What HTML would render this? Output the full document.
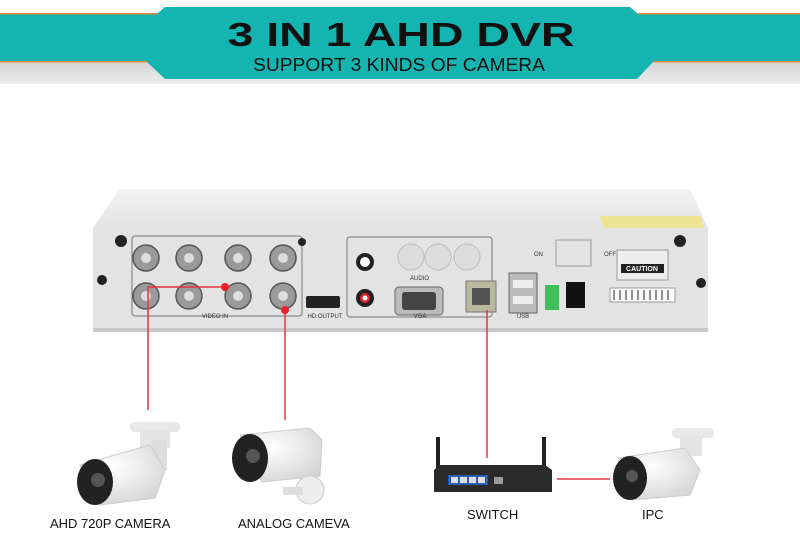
<!DOCTYPE html>
<html><head><style>
body{margin:0;background:#fff;}
svg{display:block;font-family:"Liberation Sans",Arial,sans-serif;}
</style></head><body>
<svg width="800" height="553" viewBox="0 0 800 553" xmlns="http://www.w3.org/2000/svg">
<defs>
<linearGradient id="gr" x1="0" y1="0" x2="0" y2="1"><stop offset="0" stop-color="#d4d4d4"/><stop offset="1" stop-color="#ececec"/></linearGradient>
<linearGradient id="top" x1="0" y1="0" x2="0" y2="1"><stop offset="0" stop-color="#f3f3f3"/><stop offset="1" stop-color="#e2e2e2"/></linearGradient>
<radialGradient id="cam" cx="0.4" cy="0.35" r="0.8"><stop offset="0" stop-color="#fff"/><stop offset="1" stop-color="#cfcfcf"/></radialGradient>
</defs>
<!-- header -->
<rect x="0" y="62" width="800" height="22" fill="url(#gr)"/>
<rect x="0" y="13" width="800" height="49" fill="#14b4b0"/>
<rect x="0" y="13" width="800" height="1.5" fill="#e8873a"/>
<rect x="0" y="61" width="800" height="1.5" fill="#e8873a"/>
<polygon points="165,7 630,7 637,13 653,62 637,79 165,79 147,62 158,13" fill="#14b4b0"/>
<text x="401" y="46" text-anchor="middle" font-size="33" font-weight="bold" fill="#111" textLength="347" lengthAdjust="spacingAndGlyphs">3 IN 1 AHD DVR</text>
<text x="399" y="71" text-anchor="middle" font-size="18" fill="#111" textLength="292" lengthAdjust="spacingAndGlyphs">SUPPORT 3 KINDS OF CAMERA</text>

<!-- DVR -->
<polygon points="120,189 690,189 708,228 93,228" fill="url(#top)"/>
<polygon points="600,216 700,216 704,228 604,228" fill="#f0e27a" opacity="0.8"/>
<rect x="93" y="228" width="615" height="102" fill="#e3e3e3"/>
<rect x="93" y="328" width="615" height="4" fill="#c8c8c8"/>
<g fill="#222"><circle cx="121" cy="241" r="6"/><circle cx="102" cy="280" r="5"/><circle cx="680" cy="241" r="6"/><circle cx="701" cy="283" r="5"/></g>
<rect x="132" y="236" width="170" height="80" fill="none" stroke="#777" rx="3"/>
<g fill="#9a9a9a" stroke="#555" stroke-width="1.5">
<circle cx="146" cy="258" r="13"/><circle cx="189" cy="258" r="13"/><circle cx="238" cy="258" r="13"/><circle cx="283" cy="258" r="13"/>
<circle cx="146" cy="296" r="13"/><circle cx="189" cy="296" r="13"/><circle cx="238" cy="296" r="13"/><circle cx="283" cy="296" r="13"/>
</g>
<g fill="#ddd"><circle cx="146" cy="258" r="5"/><circle cx="189" cy="258" r="5"/><circle cx="238" cy="258" r="5"/><circle cx="283" cy="258" r="5"/>
<circle cx="146" cy="296" r="5"/><circle cx="189" cy="296" r="5"/><circle cx="238" cy="296" r="5"/><circle cx="283" cy="296" r="5"/></g>
<circle cx="302" cy="242" r="4" fill="#222"/>
<text x="215" y="318" font-size="6" text-anchor="middle" fill="#333">VIDEO IN</text>
<rect x="306" y="296" width="34" height="12" rx="2" fill="#222"/>
<text x="325" y="318" font-size="6" text-anchor="middle" fill="#333">HD OUTPUT</text>
<rect x="347" y="237" width="145" height="80" fill="none" stroke="#777" rx="3"/>
<circle cx="365" cy="262" r="9" fill="#222"/><circle cx="365" cy="262" r="5" fill="#fff"/>
<circle cx="365" cy="298" r="9" fill="#222"/><circle cx="365" cy="298" r="5" fill="#e0202a"/><circle cx="365" cy="298" r="2.5" fill="#fff"/>
<g fill="#ddd" stroke="#bbb"><circle cx="411" cy="257" r="13"/><circle cx="438" cy="257" r="13"/><circle cx="467" cy="257" r="13"/></g>
<text x="410" y="280" font-size="6" fill="#333">AUDIO</text>
<rect x="395" y="287" width="48" height="28" rx="4" fill="#bbb" stroke="#666"/>
<rect x="402" y="292" width="34" height="18" rx="3" fill="#444"/>
<text x="420" y="318" font-size="6" text-anchor="middle" fill="#333">VGA</text>
<rect x="466" y="281" width="30" height="31" fill="#b9b9a0" stroke="#777"/>
<rect x="472" y="288" width="18" height="17" fill="#555"/>
<rect x="509" y="273" width="28" height="40" fill="#bbb" stroke="#666"/>
<rect x="513" y="280" width="20" height="8" fill="#eee"/><rect x="513" y="296" width="20" height="8" fill="#eee"/>
<text x="523" y="318" font-size="6" text-anchor="middle" fill="#333">USB</text>
<rect x="545" y="285" width="14" height="25" fill="#3fbf5a"/>
<rect x="566" y="282" width="19" height="26" fill="#111"/>
<rect x="556" y="240" width="35" height="26" fill="none" stroke="#999"/>
<text x="534" y="256" font-size="6" fill="#333">ON</text><text x="604" y="256" font-size="6" fill="#333">OFF</text>
<rect x="617" y="250" width="51" height="30" fill="#eee" stroke="#999"/>
<rect x="621" y="264" width="43" height="9" fill="#222"/>
<text x="642" y="271" font-size="7" font-weight="bold" text-anchor="middle" fill="#fff">CAUTION</text>
<rect x="610" y="288" width="65" height="14" fill="#fff" stroke="#999"/>
<g stroke="#222" stroke-width="1"><line x1="614" y1="290" x2="614" y2="300"/><line x1="620" y1="290" x2="620" y2="300"/><line x1="626" y1="290" x2="626" y2="300"/><line x1="632" y1="290" x2="632" y2="300"/><line x1="638" y1="290" x2="638" y2="300"/><line x1="644" y1="290" x2="644" y2="300"/><line x1="650" y1="290" x2="650" y2="300"/><line x1="656" y1="290" x2="656" y2="300"/><line x1="662" y1="290" x2="662" y2="300"/><line x1="668" y1="290" x2="668" y2="300"/></g>

<!-- red connectors -->
<g stroke="#e8353d" stroke-width="1.5" fill="none">
<polyline points="148,410 148,287 225,287"/>
<line x1="285" y1="310" x2="285" y2="420"/>
<line x1="487" y1="310" x2="487" y2="458"/>
<line x1="557" y1="479" x2="610" y2="479"/>
</g>
<circle cx="225" cy="287" r="4" fill="#e8202a"/><circle cx="285" cy="310" r="4" fill="#e8202a"/>

<!-- AHD camera -->
<rect x="130" y="422" width="50" height="10" rx="4" fill="#e8e8e8"/>
<rect x="140" y="430" width="30" height="18" fill="#e4e4e4"/>
<rect x="152" y="440" width="15" height="30" fill="#ddd"/>
<polygon points="80,465 150,445 165,470 155,498 100,505" fill="url(#cam)" stroke="#ccc"/>
<ellipse cx="95" cy="482" rx="18" ry="23" fill="#222"/>
<circle cx="98" cy="480" r="7" fill="#555"/>
<!-- analog camera -->
<polygon points="240,435 310,428 322,440 320,476 262,482" fill="url(#cam)" stroke="#ccc"/>
<ellipse cx="250" cy="458" rx="18" ry="24" fill="#222"/>
<circle cx="253" cy="456" r="7" fill="#555"/>
<ellipse cx="310" cy="490" rx="14" ry="14" fill="#eee" stroke="#ccc"/>
<rect x="283" y="487" width="20" height="8" fill="#ddd"/>
<!-- router -->
<rect x="436" y="437" width="4" height="32" fill="#222"/><rect x="542" y="437" width="4" height="32" fill="#222"/>
<polygon points="440,465 545,465 552,470 552,492 434,492 434,470" fill="#2a2a2a"/>
<rect x="448" y="475" width="40" height="10" fill="#2a5db8"/>
<g fill="#ddd"><rect x="451" y="477" width="7" height="6"/><rect x="460" y="477" width="7" height="6"/><rect x="469" y="477" width="7" height="6"/><rect x="478" y="477" width="7" height="6"/></g>
<rect x="494" y="477" width="9" height="7" fill="#999"/>
<!-- IPC -->
<rect x="672" y="428" width="42" height="10" rx="4" fill="#e8e8e8"/>
<rect x="680" y="436" width="22" height="20" fill="#e4e4e4"/>
<polygon points="618,458 685,448 700,470 690,495 630,500" fill="url(#cam)" stroke="#ccc"/>
<ellipse cx="630" cy="478" rx="17" ry="22" fill="#222"/>
<circle cx="632" cy="476" r="6" fill="#555"/>

<!-- labels -->
<g font-size="13" fill="#111">
<text x="50" y="528">AHD 720P CAMERA</text>
<text x="238" y="528">ANALOG CAMEVA</text>
<text x="467" y="519">SWITCH</text>
<text x="642" y="519">IPC</text>
</g>
</svg>
</body></html>
